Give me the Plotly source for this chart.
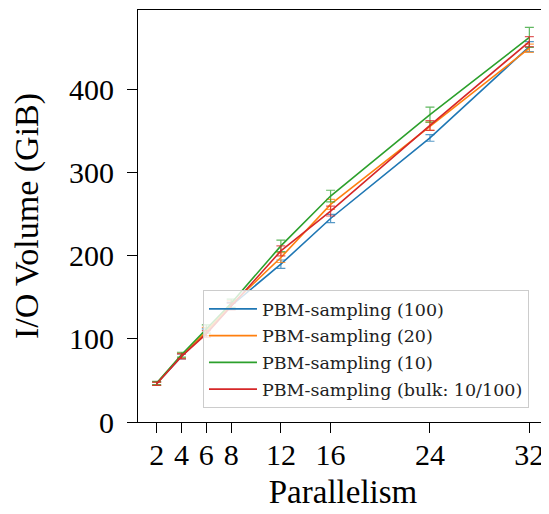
import plotly.graph_objects as go

parallelism = [2, 4, 6, 8, 12, 16, 24, 32]
tick_labels = ["2", "4", "6", "8", "12", "16", "24", "32"]

series_names = [
    "PBM-sampling (100)",
    "PBM-sampling (20)",
    "PBM-sampling (10)",
    "PBM-sampling (bulk: 10/100)",
]
vol_100 = [46, 79, 108, 140, 190, 245, 342, 452]
vol_20 = [46, 80, 109, 141, 198, 262, 356, 450]
vol_10 = [47, 81, 112, 143, 212, 272, 370, 463]
vol_bulk = [46, 79, 106, 139, 206, 254, 357, 458]

err_100 = [2, 3, 4, 4, 5, 5, 4, 6]
err_20 = [2, 3, 5, 5, 6, 6, 5, 5]
err_10 = [2, 3, 5, 5, 7, 7, 9, 12]
err_bulk = [2, 3, 4, 4, 6, 6, 6, 6]

colors = ["#1f77b4", "#ff7f0e", "#2ca02c", "#d62728"]
err_colors = ["rgba(31,119,180,0.75)", "rgba(255,127,14,0.75)",
              "rgba(44,160,44,0.75)", "rgba(214,39,40,0.75)"]

values = [vol_100, vol_20, vol_10, vol_bulk]
errors = [err_100, err_20, err_10, err_bulk]

fig = go.Figure()
for i, (name, v, e) in enumerate(zip(series_names, values, errors)):
    fig.add_trace(go.Scatter(
        x=parallelism, y=v, name=name, mode="lines",
        legendgroup=f"g{i}",
        line=dict(color=colors[i], width=1.6),
        error_y=dict(type="data", array=e, visible=True,
                     color=err_colors[i], thickness=1.2, width=4.5),
    ))

font_family = "Liberation Serif"
fig.update_layout(
    width=549, height=514,
    margin=dict(l=130, r=9, t=2, b=100),
    paper_bgcolor="white", plot_bgcolor="white",
    font=dict(family=font_family, size=30, color="black"),
    showlegend=True,
    legend=dict(
        x=0.1585, y=0.034, xanchor="left", yanchor="bottom",
        bgcolor="rgba(255,255,255,0.8)", bordercolor="#cccccc", borderwidth=1,
        font=dict(family="DejaVu Serif", size=17.5, color="#222222"),
        tracegroupgap=1, itemwidth=48,
    ),
    xaxis=dict(
        range=[0.5, 33.5], automargin=False,
        tickmode="array", tickvals=parallelism, ticktext=tick_labels,
        ticks="outside", ticklen=10, tickwidth=1, tickcolor="black",
        showline=True, linecolor="black", linewidth=1, mirror=True,
        showgrid=False, zeroline=False, ticklabelstandoff=-4,
        title=dict(text="Parallelism", font=dict(size=33), standoff=9),
        tickfont=dict(size=30),
    ),
    yaxis=dict(
        range=[0, 496], automargin=False,
        tickmode="array", tickvals=[0, 100, 200, 300, 400],
        ticks="outside", ticklen=10, tickwidth=1, tickcolor="black",
        showline=True, linecolor="black", linewidth=1, mirror=True,
        showgrid=False, zeroline=False, ticklabelstandoff=7,
        title=dict(text="I/O Volume (GiB)", font=dict(size=34), standoff=22),
        tickfont=dict(size=30),
    ),
)

fig.write_html("out.html")
